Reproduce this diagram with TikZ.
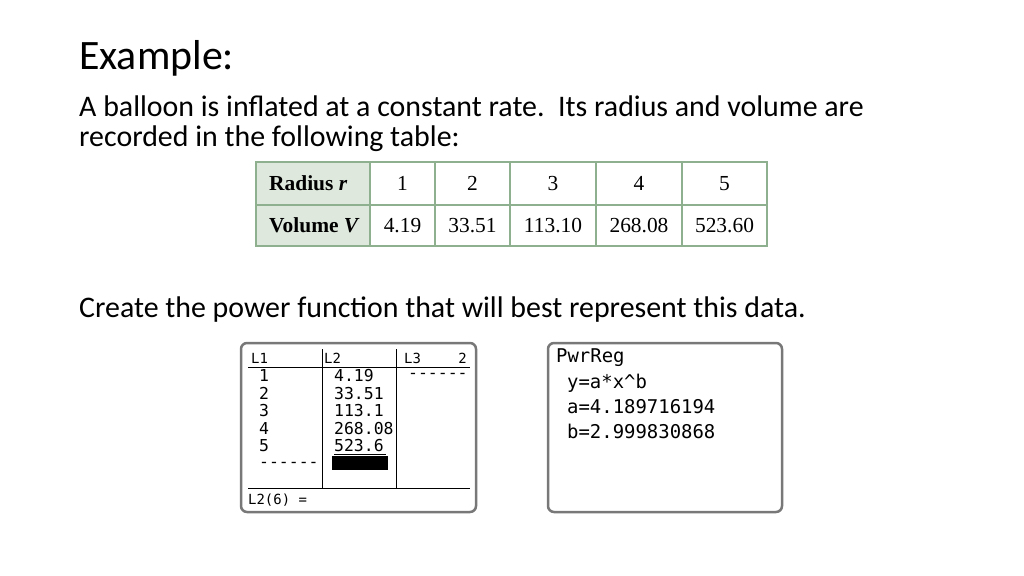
\documentclass[tikz,border=0pt]{standalone}
\usepackage{fontspec}
\setmainfont{Carlito}
\newfontfamily\tabfont{Liberation Serif}
\newfontfamily\calcfont{DejaVu Sans Mono}
\definecolor{tabline}{RGB}{143,176,143}
\definecolor{tabhead}{RGB}{222,232,220}
\definecolor{calcgray}{RGB}{120,120,120}
\tikzset{
  body/.style={anchor=west, inner sep=0pt, font=\fontsize{30}{33}\selectfont},
  cell/.style={inner sep=0pt, text height=14bp, text depth=0bp, font=\tabfont\fontsize{21.5}{23}\selectfont},
  scr/.style={draw=calcgray, line width=2.5bp, rounded corners=6bp},
  calc/.style={anchor=west, inner sep=0pt, font=\calcfont\fontsize{16.5}{17}\selectfont},
  small/.style={calc, font=\calcfont\fontsize{14}{15}\selectfont},
  regr/.style={calc, font=\calcfont\fontsize{19}{20}\selectfont},
}
\begin{document}
\begin{tikzpicture}[x=1bp,y=-1bp]
  \useasboundingbox (0,0) rectangle (1024,576);
  % heading and text
  \node[body, font=\fontsize{42}{46}\selectfont] (title) at (79,58) {Example:};
  \node[body] (line1) at (79,106) {A balloon is inflated at a constant rate.\ \ Its radius and volume are};
  \node[body] (line2) at (79,139) {recorded in the following table:};
  \node[body] (task) at (79,310) {Create the power function that will best represent this data.};
  % data table
  \fill[tabhead] (256,162) rectangle (370,246);
  \draw[tabline, line width=1.2bp] (256,205) -- (767,205);
  \foreach \x in {370,435,510,596,682}
    \draw[tabline, line width=1.2bp] (\x,162) -- (\x,246);
  \draw[tabline, line width=2.5bp] (256,162) rectangle (767,246);
  \node[cell, anchor=west] (hr) at (269,184) {\textbf{Radius \textit{r}}};
  \node[cell, anchor=west] (hv) at (269,226) {\textbf{Volume \textit{V}}};
  \foreach \c/\r/\v [count=\i] in {402.5/1/4.19, 472.5/2/33.51, 553/3/113.10, 639/4/268.08, 724.5/5/523.60} {
    \node[cell] (r\i) at (\c,184) {\r};
    \node[cell] (v\i) at (\c,226) {\v};
  }
  % calculator: list editor
  \draw[scr] (241,343) rectangle (476,512);
  \draw (248,367) -- (470,367);
  \draw (248,488) -- (470,488);
  \draw (322,349) -- (322,488);
  \draw (396,349) -- (396,488);
  \node[small] (l1) at (251,358) {L1};
  \node[small] (l2) at (324,358) {L2};
  \node[small] (l3) at (404,358) {L3};
  \node[small, anchor=east] (l3n) at (467,358) {2};
  \foreach \n/\v [count=\i] in {1/4.19, 2/33.51, 3/113.1, 4/268.08, 5/523.6} {
    \node[calc] (n\i) at (259,358+\i*17.6) {\n};
    \node[calc] (m\i) at (334,358+\i*17.6) {\v};
  }
  \draw (334,454) -- (386,454);
  \node[calc] (d1) at (259,465) {------};
  \node[calc] (d3) at (408,376) {------};
  \fill (332,456) rectangle (388,470);
  \node[small] (l26) at (248,500) {L2(6) =};
  % calculator: regression result
  \draw[scr] (548,343) rectangle (782,512);
  \node[regr] (pwr) at (556,358) {PwrReg};
  \node[regr] (eq) at (567,383) {y=a*x\^{}b};
  \node[regr] (av) at (567,407) {a=4.189716194};
  \node[regr] (bv) at (567,431) {b=2.999830868};
\end{tikzpicture}
\end{document}
